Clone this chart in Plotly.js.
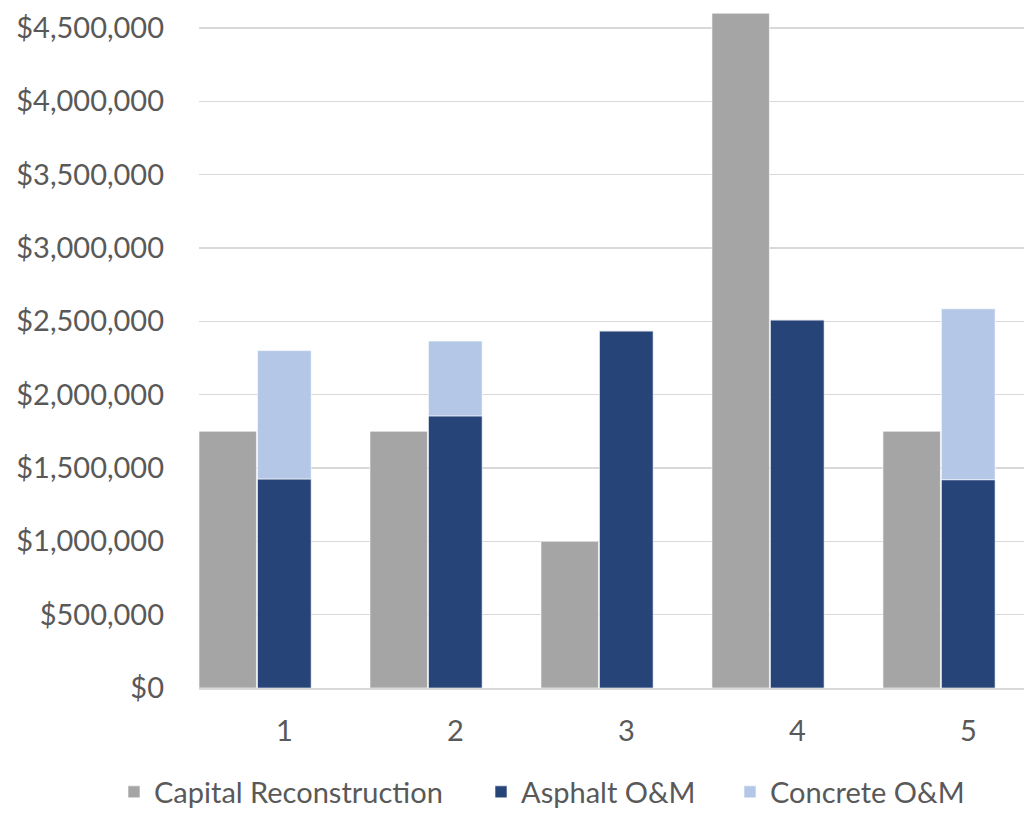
<!DOCTYPE html>
<html>
<head>
<meta charset="utf-8">
<script src="https://cdn.plot.ly/plotly-3.0.1.min.js"></script>
<style>html,body{margin:0;padding:0;background:#fff;overflow:hidden}#chart{width:1024px;height:815px}</style>
</head>
<body>
<div id="chart"></div>
<script>
var categories = [1, 2, 3, 4, 5];
var capitalReconstruction = [1750000, 1750000, 1000000, 4600000, 1750000];
var asphaltOM = [1425000, 1855000, 2435000, 2510000, 1420000];
var concreteOM = [875000, 510000, 0, 0, 1165000];
var yTickVals = [0, 500000, 1000000, 1500000, 2000000, 2500000, 3000000, 3500000, 4000000, 4500000];
var yTickText = ['$0', '$500,000', '$1,000,000', '$1,500,000', '$2,000,000', '$2,500,000', '$3,000,000', '$3,500,000', '$4,000,000', '$4,500,000'];

var FONT = 'Lato, "Open Sans", sans-serif';
var FS = 29;
var barLine = {color: 'rgba(255,255,255,0.6)', width: 1};

var traces = [
  {
    type: 'bar', name: 'Capital Reconstruction', x: categories, y: capitalReconstruction,
    offset: -0.5, width: 0.336, legend: 'legend',
    marker: {color: '#A5A5A5', line: barLine}
  },
  {
    type: 'bar', name: 'Asphalt O&M', x: categories, y: asphaltOM,
    offset: -0.158, width: 0.314, legend: 'legend2',
    marker: {color: '#264478', line: barLine}
  },
  {
    type: 'bar', name: 'Concrete O&M', x: categories, y: concreteOM, base: asphaltOM,
    offset: -0.158, width: 0.314, legend: 'legend3',
    marker: {color: '#B4C7E7', line: barLine}
  }
];

function legendAt(px) {
  return {
    orientation: 'h', x: px / 1024, xref: 'container', xanchor: 'left',
    y: (815 - 792) / 815, yref: 'container', yanchor: 'middle',
    font: {family: FONT, size: FS, color: '#595959'},
    itemwidth: 30, bgcolor: 'rgba(0,0,0,0)'
  };
}

var layout = {
  width: 1024, height: 815,
  margin: {l: 199, r: 0, t: 0, b: 127, pad: 0},
  paper_bgcolor: '#ffffff', plot_bgcolor: '#ffffff',
  barmode: 'overlay',
  font: {family: FONT, color: '#595959', size: FS},
  showlegend: true,
  legend: legendAt(114),
  legend2: legendAt(481),
  legend3: legendAt(730),
  xaxis: {
    range: [0.5, 5.325], type: 'linear',
    tickvals: categories, ticktext: categories.map(String),
    showgrid: false, zeroline: false,
    showline: true, linecolor: '#D9D9D9', linewidth: 1.5,
    ticks: '', ticklabelstandoff: 17,
    tickfont: {family: FONT, size: FS, color: '#595959'},
    fixedrange: true
  },
  yaxis: {
    range: [0, 4690000],
    tickvals: yTickVals, ticktext: yTickText,
    showgrid: true, gridcolor: '#D9D9D9', gridwidth: 1.3,
    zeroline: false, showline: false, ticks: '',
    ticklabelstandoff: 34,
    tickfont: {family: FONT, size: FS, color: '#595959'},
    fixedrange: true
  }
};

Plotly.newPlot('chart', traces, layout, {displayModeBar: false, staticPlot: true});
</script>
</body>
</html>
